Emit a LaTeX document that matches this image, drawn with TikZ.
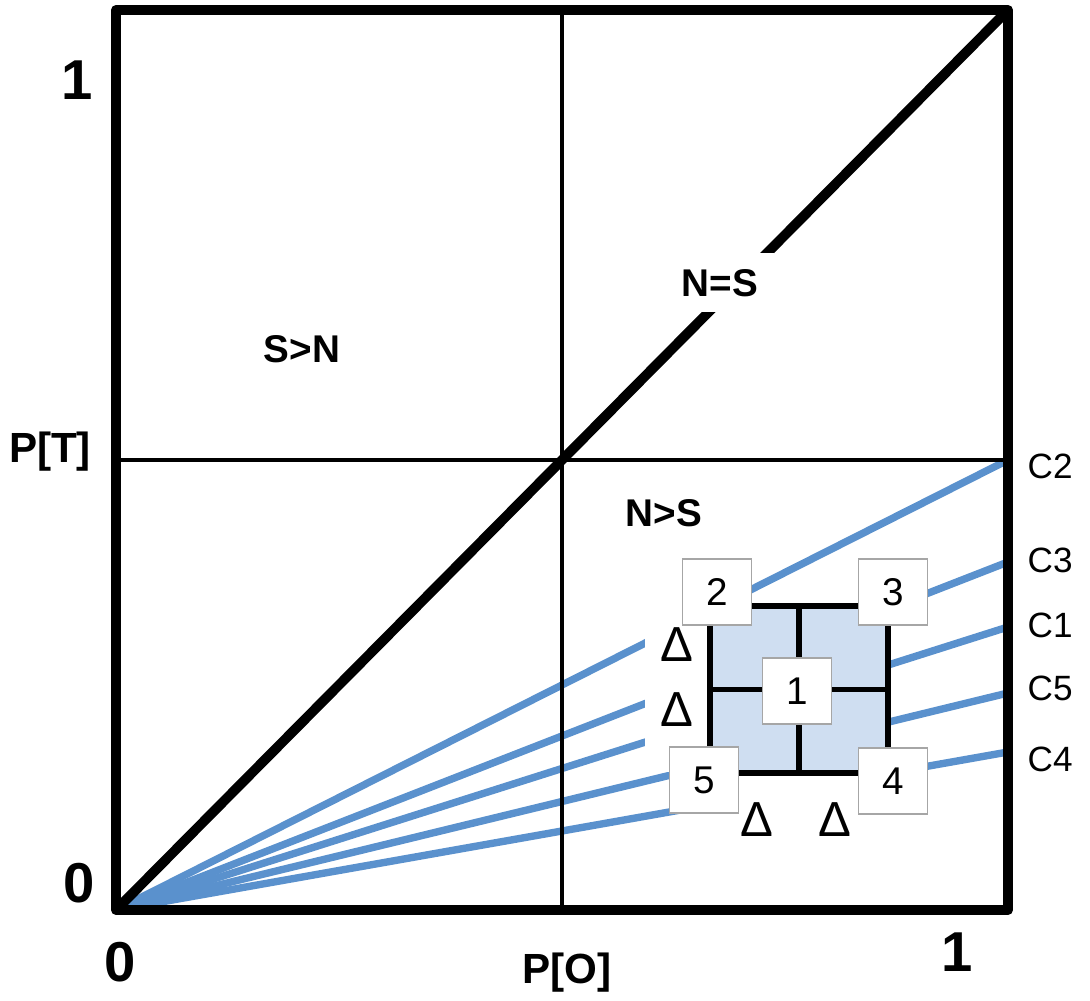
\documentclass[tikz,border=0pt]{standalone}
\usepackage{fontspec}
\setmainfont{Liberation Sans}
\usepackage{xcolor}
\definecolor{ratioBlue}{HTML}{5A91CD}
\definecolor{cellBlue}{HTML}{CFDEF1}
\usetikzlibrary{calc,positioning}

\begin{document}
\begin{tikzpicture}
  \tikzset{
    frame/.style={line width=2.8pt, line join=round},
    halfline/.style={line width=1.2pt},
    ratioline/.style={ratioBlue, line width=2.1pt},
    gridline/.style={line width=1.5pt},
    axislabel/.style={font=\fontsize{12}{14}\selectfont\bfseries, inner sep=0pt},
    ticklabel/.style={font=\fontsize{16}{18}\selectfont\bfseries, inner sep=0pt},
    regionlabel/.style={font=\fontsize{11}{13}\selectfont\bfseries},
    curvelabel/.style={font=\fontsize{10}{12}\selectfont, anchor=west, inner sep=0pt},
    cellbox/.style={
      draw=gray!70,
      fill=white,
      line width=0.4pt,
      minimum width=0.69cm,
      minimum height=0.66cm,
      inner sep=0pt,
      font=\fontsize{11}{13}\selectfont,
    },
    deltalabel/.style={font=\fontsize{14}{16}\selectfont, inner sep=0pt},
  }

  \path[use as bounding box] (0,0) rectangle (10.90,10.01);

  \coordinate (O) at (1.16,0.91);
  \coordinate (TR) at (10.08,9.91);
  \coordinate (M) at (5.62,5.41);

  % end points of the ratio lines on the right edge
  \coordinate (e2) at (10.08,5.41);
  \coordinate (e3) at (10.08,4.39);
  \coordinate (e1) at (10.08,3.74);
  \coordinate (e5) at (10.08,3.08);
  \coordinate (e4) at (10.08,2.49);

  \foreach \c in {2,3,1,5,4}
    \draw[ratioline] (O) -- (e\c);

  \draw[halfline] (M |- O) -- (M |- TR);
  \draw[halfline] (M -| O) -- (M -| TR);
  \draw[frame] (O) rectangle (TR);
  \draw[frame] (O) -- (TR);

  \node[regionlabel, fill=white, inner sep=4.5pt] (eq) at (7.20,7.18) {N=S};
  \node[regionlabel] (sn) at (3.02,6.52) {S>N};
  \node[regionlabel] (ns) at (6.64,4.88) {N>S};

  \node[axislabel] (pt) at (0.50,5.49) {P[T]};
  \node[axislabel] (po) at (5.67,0.28) {P[O]};
  \node[ticklabel] (yone) at (0.77,9.21) {1};
  \node[ticklabel] (yzero) at (0.79,1.18) {0};
  \node[ticklabel] (xzero) at (1.20,0.39) {0};
  \node[ticklabel] (xone) at (9.57,0.49) {1};

  \node[curvelabel] (c2) at (10.27,5.35) {C2};
  \node[curvelabel] (c3) at (10.27,4.41) {C3};
  \node[curvelabel] (c1) at (10.27,3.76) {C1};
  \node[curvelabel] (c5) at (10.27,3.13) {C5};
  \node[curvelabel] (c4) at (10.27,2.42) {C4};

  % white cut-outs around the cell
  \fill[white] (6.45,3.86) rectangle (7.10,2.29);
  \fill[white] (7.38,2.29) rectangle (8.60,1.51);

  \coordinate (g1) at (7.10,2.28);
  \coordinate (g2) at (8.88,3.95);
  \coordinate (gc) at ($(g1)!0.5!(g2)$);
  \filldraw[gridline, fill=cellBlue] (g1) rectangle (g2);
  \draw[gridline] (gc |- g1) -- (gc |- g2);
  \draw[gridline] (gc -| g1) -- (gc -| g2);

  \node[cellbox] (b1) at (7.97,3.10) {1};
  \node[cellbox] (b2) at (7.17,4.09) {2};
  \node[cellbox] (b3) at (8.93,4.09) {3};
  \node[cellbox] (b4) at (8.93,2.20) {4};
  \node[cellbox] (b5) at (7.04,2.21) {5};

  \node[deltalabel] (dl1) at (6.77,3.56) {Δ};
  \node[deltalabel] (dl2) at (6.77,2.91) {Δ};
  \node[deltalabel] (db1) at (7.57,1.81) {Δ};
  \node[deltalabel] (db2) at (8.35,1.81) {Δ};
\end{tikzpicture}
\end{document}
